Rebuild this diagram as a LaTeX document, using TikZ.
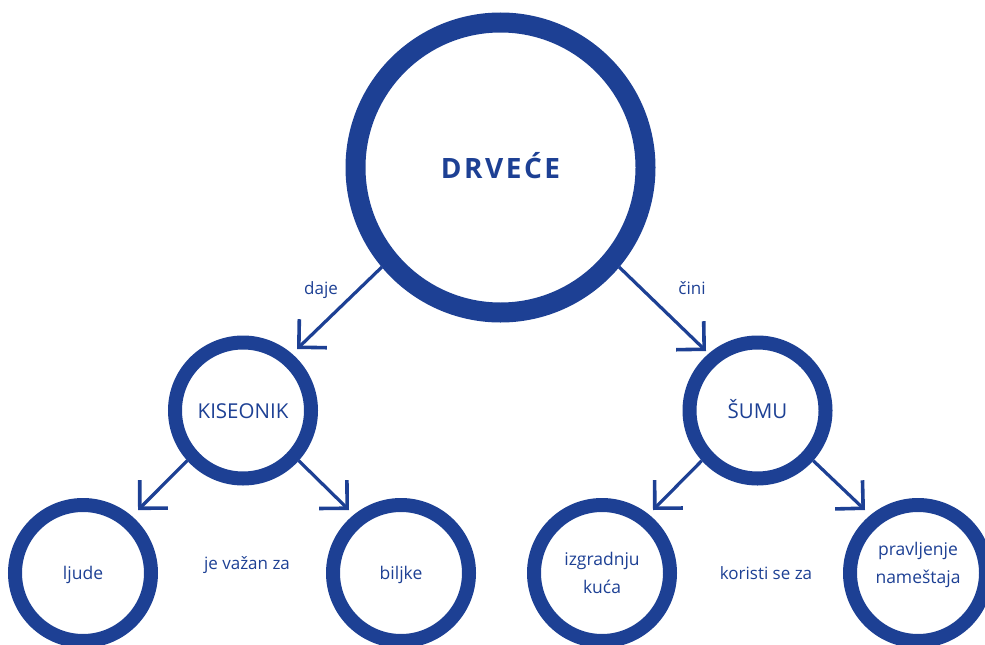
\documentclass[tikz,border=0pt]{standalone}
\usepackage{fontspec}
\setmainfont{Open Sans}
\usetikzlibrary{arrows.meta}
\definecolor{navy}{RGB}{29,64,148}
\begin{document}
\begin{tikzpicture}[x=1pt,y=-1pt,
  bigc/.style={circle,draw=navy,line width=20pt,minimum size=290pt,inner sep=0pt,text=navy,
    font=\bfseries\fontsize{28}{34}\selectfont\addfontfeature{LetterSpace=9}},
  midc/.style={circle,draw=navy,line width=14pt,minimum size=136pt,inner sep=0pt,text=navy,
    font=\fontsize{20.5}{24}\selectfont},
  leafc/.style={midc,font=\fontsize{17.5}{28}\selectfont,align=center},
  lbl/.style={text=navy,font=\fontsize{17}{20}\selectfont,inner sep=0pt,anchor=base},
  link/.style={draw=navy,line width=3.2pt,-{Straight Barb[angle=90:28pt,line width=3.6pt]}}
]
\useasboundingbox (0,0) rectangle (985,645);
\node[bigc,text height=21pt,text depth=0pt] (top) at (500.5,167.5) {DRVEĆE};
\node[midc,text height=15pt,text depth=0pt] (kis) at (243,410.5) {KISEONIK};
\node[midc,text height=15pt,text depth=0pt] (sum) at (757.5,410.5) {ŠUMU};
\node[leafc,text height=16pt,text depth=4pt] (lju) at (83,573) {ljude};
\node[leafc,text height=16pt,text depth=4pt] (bil) at (401,573) {biljke};
\node[leafc,text height=44pt,text depth=4pt] (izg) at (602,573) {izgradnju\\kuća};
\node[leafc,text height=24pt,text depth=4pt] (pra) at (918,573) {pravljenje\\nameštaja};
\node[lbl] (ldaje) at (321,294) {daje};
\node[lbl] (lcini) at (692,294) {čini};
\node[lbl] (lvaz) at (247,569) {je važan za};
\node[lbl] (lkor) at (766,579) {koristi se za};
\coordinate (t1) at (297,349);
\coordinate (t2) at (706,351);
\coordinate (t3) at (138,510);
\coordinate (t4) at (349,510);
\coordinate (t5) at (653,510);
\coordinate (t6) at (865,510);
\draw[link] (top.220) -- (t1);
\draw[link] (top.-40) -- (t2);
\draw[link] (kis.222) -- (t3);
\draw[link] (kis.-42) -- (t4);
\draw[link] (sum.222) -- (t5);
\draw[link] (sum.-42) -- (t6);
\end{tikzpicture}
\end{document}
